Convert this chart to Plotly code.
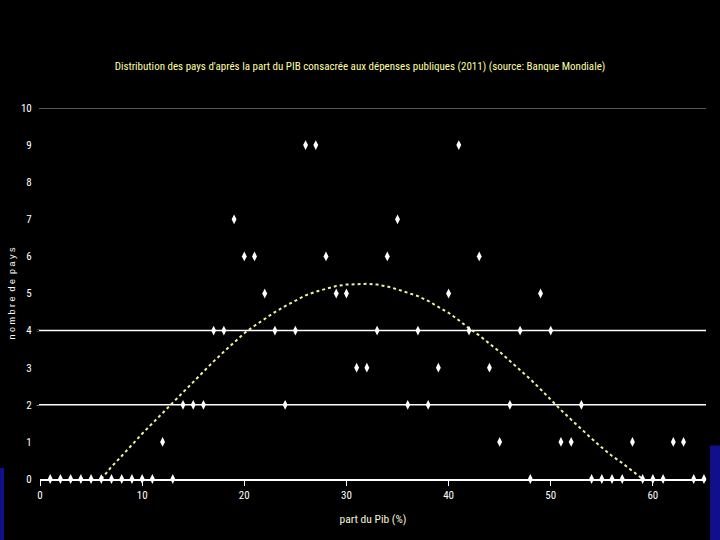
import plotly.graph_objects as go

# Observed country counts by share of GDP (%)
pib_share = list(range(1, 66))
country_counts = [0, 0, 0, 0, 0, 0, 0, 0, 0, 0, 0, 1, 0, 2, 2, 2, 4, 4, 7, 6,
                  6, 5, 4, 2, 4, 9, 9, 6, 5, 5, 3, 3, 4, 6, 7, 2, 4, 2, 3, 5,
                  9, 4, 6, 3, 1, 2, 4, 0, 5, 4, 1, 1, 2, 0, 0, 0, 0, 1, 0, 0,
                  0, 1, 1, 0, 0]

# Fitted curve
curve_x = [6, 7, 8, 9, 10, 11, 12, 13, 14, 15, 16, 17, 18, 19, 20, 21, 22, 23, 24,
           25, 26, 27, 28, 29, 30, 31, 32, 33, 34, 35, 36, 37, 38, 39, 40, 41, 42,
           43, 44, 45, 46, 47, 48, 49, 50, 51, 52, 53, 54, 55, 56, 57, 58, 59]
curve_y = [0.0, 0.33, 0.62, 0.93, 1.22, 1.5, 1.78, 2.06, 2.34, 2.62, 2.9, 3.17,
           3.43, 3.69, 3.93, 4.13, 4.32, 4.5, 4.66, 4.8, 4.95, 5.05, 5.13, 5.2,
           5.24, 5.26, 5.26, 5.24, 5.19, 5.11, 5.01, 4.93, 4.8, 4.64, 4.48, 4.28,
           4.06, 3.87, 3.66, 3.43, 3.18, 2.94, 2.69, 2.42, 2.13, 1.86, 1.6, 1.34,
           1.09, 0.85, 0.62, 0.43, 0.22, 0.0]

y_ticks = list(range(0, 11))
y_dash_ticks = [0, 2, 3, 4, 5, 6, 7, 8, 9, 10]
x_ticks = [0, 10, 20, 30, 40, 50, 60]
white_grid_levels = [2, 4]
gray_grid_levels = [10]

FONT = "Roboto Condensed, Liberation Sans, sans-serif"

fig = go.Figure()
fig.add_trace(go.Scatter(
    x=curve_x, y=curve_y, mode="lines",
    line=dict(color="#eef0a0", width=2, dash="dot"),
    hoverinfo="skip", cliponaxis=False))
fig.add_trace(go.Scatter(
    x=pib_share, y=country_counts, mode="markers",
    marker=dict(symbol="diamond-tall", size=7, color="white"),
    cliponaxis=False))

shapes = []
for lv in white_grid_levels:
    shapes.append(dict(type="line", xref="paper", yref="y", x0=-0.005, x1=1, y0=lv, y1=lv,
                       line=dict(color="white", width=1.5), layer="below"))
for lv in gray_grid_levels:
    shapes.append(dict(type="line", xref="paper", yref="y", x0=-0.005, x1=1, y0=lv, y1=lv,
                       line=dict(color="#b0b0b0", width=1.2), layer="below"))
# blue edge slivers of the original slide background
shapes.append(dict(type="rect", xref="paper", yref="paper", x0=-0.060, x1=-0.054,
                   y0=-0.165, y1=0.03, line=dict(width=0), fillcolor="#10108a", layer="below"))
shapes.append(dict(type="rect", xref="paper", yref="paper", x0=1.006, x1=1.025,
                   y0=-0.165, y1=0.09, line=dict(width=0), fillcolor="#10108a", layer="below"))

fig.update_layout(
    width=720, height=540,
    paper_bgcolor="black", plot_bgcolor="black",
    margin=dict(l=40, r=14, t=108, b=61, autoexpand=False),
    showlegend=False,
    title=dict(
        text="Distribution des pays d'aprés la part du PIB consacrée aux dépenses publiques (2011) (source: Banque Mondiale)",
        font=dict(family=FONT, size=11, color="#ffffa0"),
        x=0.5, xanchor="center", y=0.877, yanchor="middle"),
    xaxis=dict(
        range=[0, 65.2], tickvals=x_ticks, showgrid=False, zeroline=False, automargin=False,
        showline=True, linecolor="white", linewidth=2,
        ticks="outside", ticklen=5, tickcolor="white", tickwidth=1,
        tickfont=dict(family=FONT, size=11, color="white"),
        title=dict(text="part du Pib (%)", font=dict(family=FONT, size=11.5, color="#f4f4d8"), standoff=14)),
    yaxis=dict(
        range=[0, 10], tickvals=y_ticks, showgrid=False, zeroline=False, showline=False, automargin=False,
        ticks="outside", ticklen=5, tickcolor="black",
        tickfont=dict(family=FONT, size=11, color="white"),
        title=dict(text="n o m b r e  d e  p a y s", font=dict(family="Liberation Sans, sans-serif", size=9, color="white"), standoff=3)),
    yaxis2=dict(
        range=[0, 10], overlaying="y", tickvals=y_dash_ticks, showgrid=False, zeroline=False, automargin=False,
        showline=False, ticks="outside", ticklen=4, tickcolor="white", showticklabels=False),
    shapes=shapes,
)
fig.write_html("out.html", config={"displayModeBar": False},
               post_script="document.body.style.margin='0';document.body.style.overflow='hidden';")
